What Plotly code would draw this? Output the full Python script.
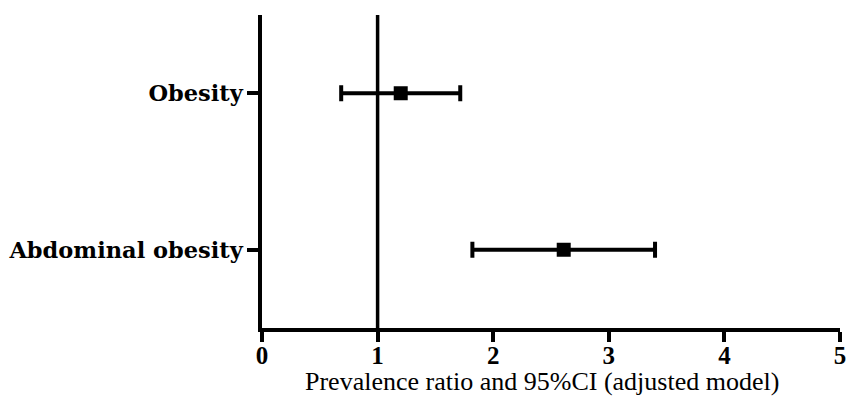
import plotly.graph_objects as go

categories = ["Abdominal obesity", "Obesity"]
pr = [2.61, 1.20]
ci_low = [1.82, 0.685]
ci_high = [3.40, 1.715]
x_ticks = [0, 1, 2, 3, 4, 5]
x_title = "Prevalence ratio and 95%CI (adjusted model)"

ypos = list(range(len(categories)))
err_plus = [h - p for h, p in zip(ci_high, pr)]
err_minus = [p - l for p, l in zip(pr, ci_low)]

SERIF = "Liberation Serif"
WIDE = "DejaVu Serif"

fig = go.Figure()
fig.add_trace(go.Scatter(
    x=pr, y=ypos, mode="markers",
    marker=dict(symbol="square", size=14, color="black"),
    error_x=dict(type="data", symmetric=False, array=err_plus, arrayminus=err_minus,
                 color="black", thickness=4, width=8),
    showlegend=False, cliponaxis=False, hoverinfo="skip",
))
fig.add_shape(type="line", xref="x", yref="paper", x0=1, x1=1, y0=0, y1=1,
              line=dict(color="black", width=3.5))
fig.add_annotation(text=x_title, xref="paper", yref="paper", x=0.484, y=-0.171,
                   xanchor="center", yanchor="middle", showarrow=False,
                   font=dict(size=26, family=SERIF, color="black"))

fig.update_layout(
    width=847, height=396,
    margin=dict(l=262, r=7, t=15, b=68),
    plot_bgcolor="white", paper_bgcolor="white",
    font=dict(family=SERIF, color="black"),
    xaxis=dict(range=[0, 5], tickvals=x_ticks, ticktext=[str(t) for t in x_ticks],
               automargin=False,
               showgrid=False, zeroline=False, showline=True, linecolor="black", linewidth=3.5,
               ticks="outside", ticklen=10, tickwidth=3.5, tickcolor="black",
               ticklabelstandoff=-8,
               tickfont=dict(size=25, family=SERIF, weight="bold")),
    yaxis=dict(range=[-0.5, 1.5], tickvals=ypos, ticktext=categories,
               automargin=False,
               showgrid=False, zeroline=False, showline=True, linecolor="black", linewidth=3.5,
               ticks="outside", ticklen=11, tickwidth=3.5, tickcolor="black",
               tickfont=dict(size=22.5, family=WIDE, weight="bold")),
)

fig.write_html("out.html", config={"displayModeBar": False},
               post_script="document.body.style.margin='0';")
